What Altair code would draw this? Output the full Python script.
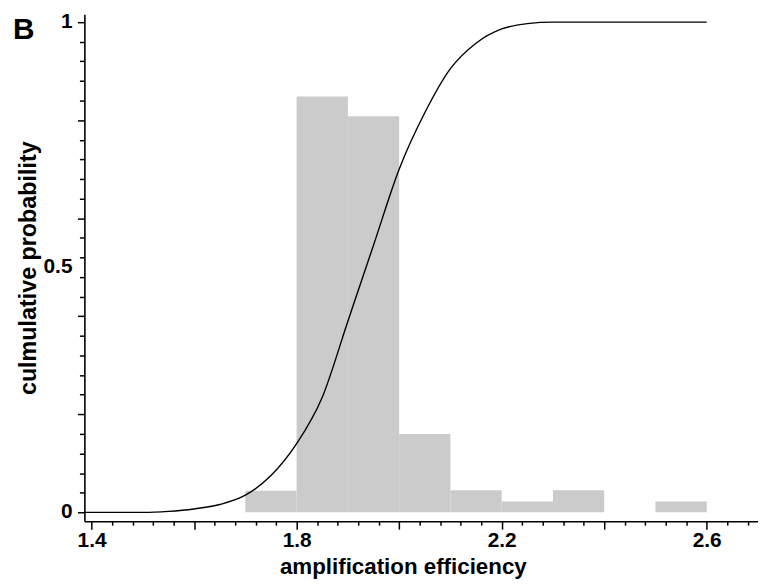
import altair as alt
import pandas as pd

# Histogram bins (amplification efficiency) and heights
bin_start = [1.7, 1.8, 1.9, 2.0, 2.1, 2.2, 2.3, 2.5]
bin_end = [1.8, 1.9, 2.0, 2.1, 2.2, 2.3, 2.4, 2.6]
bin_height = [0.044, 0.848, 0.808, 0.160, 0.045, 0.022, 0.045, 0.022]

# Cumulative probability curve
cdf_x = [1.386, 1.45, 1.5, 1.55, 1.6, 1.65, 1.7, 1.75, 1.8, 1.85, 1.9, 1.95,
         2.0, 2.05, 2.1, 2.15, 2.2, 2.25, 2.3, 2.4, 2.5, 2.6]
cdf_y = [0.0, 0.0, 0.0, 0.002, 0.007, 0.016, 0.035, 0.075, 0.14, 0.235, 0.39, 0.545,
         0.70, 0.815, 0.905, 0.957, 0.986, 0.997, 1.0, 1.0, 1.0, 1.0]

# Axis ticks and labels
x_ticks = [round(1.4 + 0.04 * k, 2) for k in range(33)]
y_ticks = [round(0.04 * k, 2) for k in range(26)]
y_labels = ["0", "0.5", "1"]
y_label_vals = [0.0, 0.5, 1.0]

hist = pd.DataFrame({"x0": bin_start, "x1": bin_end, "h": bin_height})
cdf = pd.DataFrame({"x": cdf_x, "y": cdf_y})
ylab = pd.DataFrame({"v": y_label_vals, "t": y_labels})

FONT = "Liberation Sans"

xscale = alt.Scale(domain=[1.386, 2.7], nice=False, zero=False)
yscale = alt.Scale(domain=[-0.018, 1.016], nice=False, zero=False)

xaxis = alt.Axis(
    title="amplification efficiency",
    values=x_ticks,
    labelExpr="abs((datum.value-1.4)/0.4 - round((datum.value-1.4)/0.4)) < 0.001 ? format(datum.value, '.1f') : ''",
    tickSize={"condition": {"test": "abs(datum.value*5 - round(datum.value*5)) < 0.001", "value": 8}, "value": 4},
    grid=False,
    domainColor="black", domainWidth=1.6,
    tickColor="black", tickWidth=1.5,
    labelFont=FONT, labelFontWeight="bold", labelFontSize=21, labelColor="black",
    labelPadding=1, labelFlush=False, labelOverlap=False,
    titleFont=FONT, titleFontWeight="bold", titleFontSize=22.5, titleColor="black",
    titlePadding=5, titleX=321,
)

yaxis = alt.Axis(
    title="culmulative probability",
    values=y_ticks,
    labels=False,
    tickSize={"condition": {"test": "abs(datum.value*5 - round(datum.value*5)) < 0.001", "value": 7}, "value": 5},
    grid=False,
    domainColor="black", domainWidth=1.6,
    tickColor="black", tickWidth=1.5,
    titleFont=FONT, titleFontWeight="bold", titleFontSize=23.5, titleColor="black",
    titlePadding=37,
)

bars = alt.Chart(hist).mark_rect(color="#cbcbcb").encode(
    x=alt.X("x0:Q", scale=xscale, axis=xaxis),
    x2="x1:Q",
    y=alt.Y("h:Q", scale=yscale, axis=yaxis),
    y2=alt.datum(0),
)

line = alt.Chart(cdf).mark_line(color="black", strokeWidth=1.4, interpolate="monotone").encode(
    x=alt.X("x:Q", scale=xscale, axis=xaxis),
    y=alt.Y("y:Q", scale=yscale, axis=yaxis),
)

ylabels = alt.Chart(ylab).mark_text(
    font=FONT, fontWeight="bold", fontSize=21, align="right", baseline="middle", color="black"
).encode(
    x=alt.value(-12),
    y=alt.Y("v:Q", scale=yscale, axis=yaxis),
    text="t:N",
)

label = alt.Chart(pd.DataFrame({"t": ["B"]})).mark_text(
    text="B", font=FONT, fontWeight="bold", fontSize=30, align="left", baseline="alphabetic", color="black"
).encode(x=alt.value(-72), y=alt.value(25))

chart = alt.layer(bars, line, ylabels, label).properties(
    width=679, height=511,
    autosize=alt.AutoSizeParams(type="none"),
    padding={"left": 77, "top": 4, "right": 0, "bottom": 60},
).configure(background="white", view={"stroke": None})

chart.save("out.html", embed_options={"renderer": "svg", "actions": False})
